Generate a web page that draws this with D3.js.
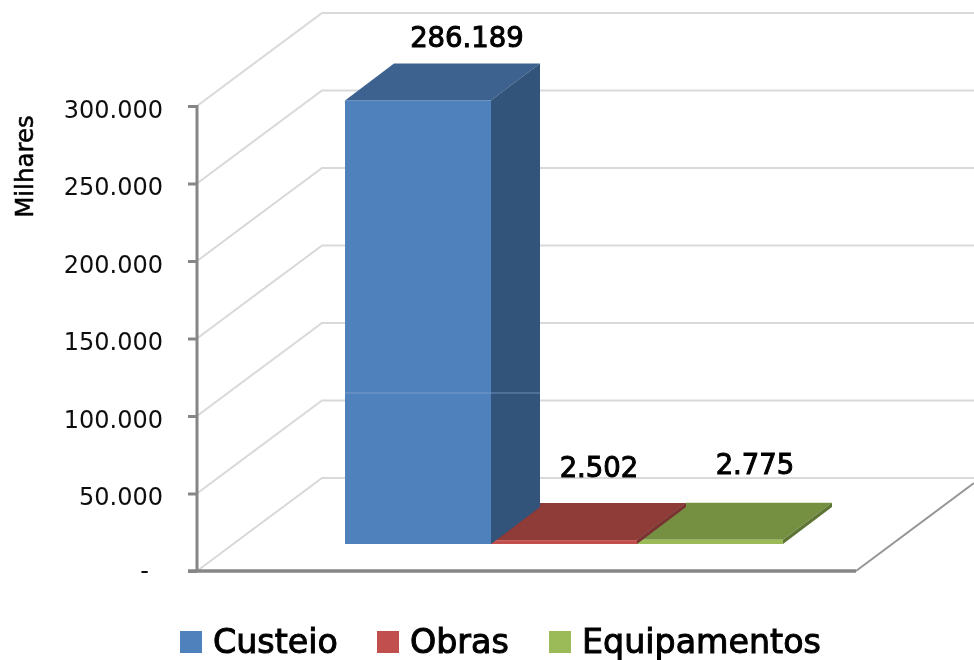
<!DOCTYPE html>
<html><head><meta charset="utf-8">
<script src="https://cdn.jsdelivr.net/npm/d3@7/dist/d3.min.js"></script>
<style>html,body{margin:0;padding:0;background:#fff}svg{display:block}text{font-family:"DejaVu Sans",sans-serif}</style>
</head><body><svg id="c" width="974" height="660"></svg>
<script>
const categories=["Custeio","Obras","Equipamentos"];
const values=[286189,2502,2775];
const valueLabels=["286.189","2.502","2.775"];
const tickValues=[0,50000,100000,150000,200000,250000,300000];
const tickLabels=["-","50.000","100.000","150.000","200.000","250.000","300.000"];
const axisTitle="Milhares";
const faces=[
 {front:"#4F81BD",top:"#3C6290",side:"#31527A"},
 {front:"#C0504D",top:"#8F3B39",side:"#7A3230"},
 {front:"#9BBB59",top:"#769042",side:"#5F7535"}];

const svg=d3.select("#c");
const defs=svg.append("defs");
defs.append("filter").attr("id","soft").append("feGaussianBlur").attr("stdDeviation",0.45);
const root=svg.append("g").attr("filter","url(#soft)");
root.append("rect").attr("width",974).attr("height",660).attr("fill","#fff");

const y=d3.scaleLinear().domain([0,300000]).range([571,106]);
const x=d3.scaleBand().domain(categories).range([345,783]).padding(0);
const wall={dx:125,dy:-93}, bar={dx:49,dy:-37}, floorY=544, x0=197, xEnd=856, xRight=974;
const line=d3.line();
const poly=pts=>"M"+pts.join("L")+"Z";

// walls
tickValues.forEach(t=>{
  root.append("path").attr("fill","none").attr("stroke","#d9d9d9").attr("stroke-width",2)
    .attr("d",line([[x0,y(t)],[x0+wall.dx,y(t)+wall.dy],[xRight,y(t)+wall.dy]]));
});

// floor edge
root.append("path").attr("fill","none").attr("stroke","#969696").attr("stroke-width",2)
  .attr("d",line([[xEnd,y(0)],[xRight,y(0)-88]]));

// axes
const ax=root.append("g").attr("transform",`translate(${x0},0)`)
  .call(d3.axisLeft(y).tickValues(tickValues).tickFormat((d,i)=>tickLabels[i]).tickSize(9).tickPadding(25));
ax.select(".domain").attr("stroke","#868686").attr("stroke-width",3).attr("d",`M0,${y(300000)-1}V${y(0)+1}`);
ax.selectAll(".tick line").attr("stroke","#868686").attr("stroke-width",3);
ax.selectAll(".tick text").attr("fill","#111").attr("font-size",24).attr("dy","0.46em").attr("font-family",'"DejaVu Sans",sans-serif');
ax.selectAll(".tick text").filter((d)=>d===0).attr("dx",-14).attr("dy","0.3em");
root.append("line").attr("x1",x0-9).attr("x2",xEnd).attr("y1",y(0)).attr("y2",y(0)).attr("stroke","#868686").attr("stroke-width",3.4);

// bars, drawn right-to-left so the tall bar's side stays on top of its neighbours
const base=y(0)-floorY;
categories.map((c,i)=>i).reverse().forEach(i=>{
  const c=categories[i], l=x(c), r=l+x.bandwidth(), b=floorY, t=y(values[i])-base;
  const f=faces[i];
  root.append("path").attr("fill",f.top).attr("d",poly([[l,t],[r,t],[r+bar.dx,t+bar.dy],[l+bar.dx,t+bar.dy]]));
  root.append("path").attr("fill",f.side).attr("d",poly([[r,t],[r+bar.dx,t+bar.dy],[r+bar.dx,b+bar.dy],[r,b]]));
  root.append("rect").attr("fill",f.front).attr("x",l).attr("y",t).attr("width",x.bandwidth()).attr("height",b-t);
});
// faint seam crossing the tall bar, present in the reference
root.append("line").attr("x1",x(categories[0])).attr("x2",x(categories[0])+x.bandwidth()+bar.dx)
  .attr("y1",393).attr("y2",393).attr("stroke","#8aa9d0").attr("stroke-opacity",0.7).attr("stroke-width",1);

// value labels
const labelPos=[[467,37],[599,467],[755,464]];
valueLabels.forEach((v,i)=>{
  root.append("text").attr("x",labelPos[i][0]).attr("y",labelPos[i][1]).attr("dy","0.36em")
   .attr("text-anchor","middle").attr("font-size",27.5).attr("fill","#000")
   .attr("stroke","#000").attr("stroke-width",1).text(v);
});

// axis title
root.append("text").attr("transform","translate(24,166.5) rotate(-90)").attr("text-anchor","middle").attr("dy","0.36em")
  .attr("font-size",24.5).attr("fill","#000").attr("stroke","#000").attr("stroke-width",0.5).text(axisTitle);

// legend
const legendX=[[180,213],[377,410],[549,582]];
categories.forEach((c,i)=>{
  root.append("rect").attr("x",legendX[i][0]).attr("y",631).attr("width",22).attr("height",22).attr("fill",faces[i].front);
  root.append("text").attr("x",legendX[i][1]).attr("y",642).attr("dy","0.33em").attr("font-size",33.3)
    .attr("fill","#000").attr("stroke","#000").attr("stroke-width",1).text(c);
});
</script></body></html>
